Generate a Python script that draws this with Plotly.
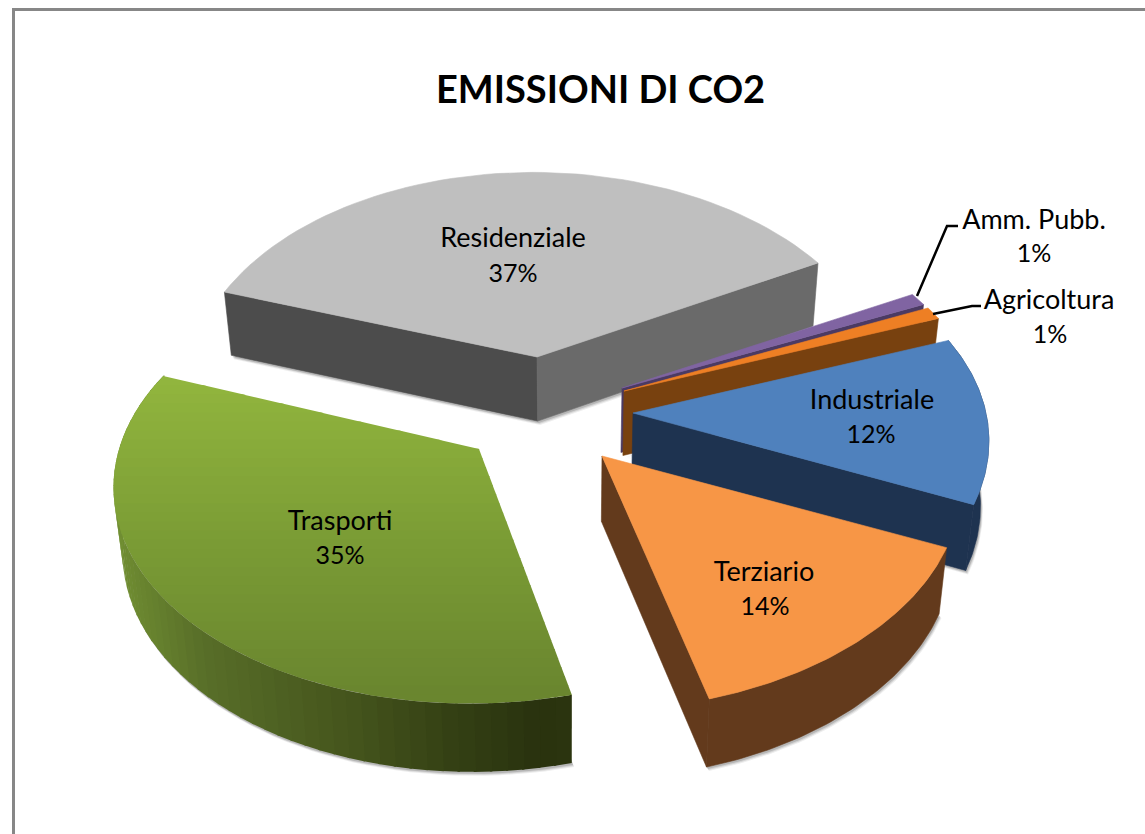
import math
import plotly.graph_objects as go

# ---- data ----
categories = ["Residenziale", "Amm. Pubb.", "Agricoltura", "Industriale", "Terziario", "Trasporti"]
values = [37.0, 1.0, 1.0, 12.4, 14.0, 34.6]
percent_labels = ["37%", "1%", "1%", "12%", "14%", "35%"]
title_text = "EMISSIONI DI CO2"

# ---- view and style ----
W, H = 1145, 834
START_ANGLE = -71.4
RX, RY, P = 340.0, 214.0, 0.159
VIEW_CX = 570.0
LEAN = 0.98

# apex x, apex y, x scale, x shear, y shear per slice (exploded slices seen in perspective)
VIEW = {
    "Residenziale": (537, 357, 1.015, 0.02, 0.0),
    "Amm. Pubb.": (622, 388, 1.04, 0.0, 0.0),
    "Agricoltura": (624, 391, 1.047, 0.0, 0.0),
    "Industriale": (633, 413, 1.038, -0.05, 0.0),
    "Terziario": (602, 456, 1.045, -0.033, 0.0),
    "Trasporti": (479, 449, 1.05, -0.095, 0.025),
}
TOP = {
    "Residenziale": "#bfbfbf", "Amm. Pubb.": "#8064a2", "Agricoltura": "#ee7f24",
    "Industriale": "#4f81bd", "Terziario": "#f79646",
}
WALL = {
    "Residenziale": "#6a6a6a", "Amm. Pubb.": "#4b3a63", "Agricoltura": "#78410f",
    "Industriale": "#1e3350", "Terziario": "#633a1c",
}
RES_START_WALL = "#4c4c4c"
GREEN_TOP_STOPS = [(376, (146, 182, 62)), (560, (120, 153, 52)), (692, (106, 134, 47))]
GREEN_WALL_STOPS = [(115, (112, 142, 50)), (200, (88, 110, 40)), (350, (68, 84, 28)),
                    (450, (52, 64, 20)), (540, (41, 50, 14)), (575, (44, 53, 16))]
NAME_POS = {"Residenziale": (513, 240), "Amm. Pubb.": (1034, 222), "Agricoltura": (1049, 302),
            "Industriale": (872, 402), "Terziario": (764, 574), "Trasporti": (340, 523)}
PCT_POS = {"Residenziale": (513, 276), "Amm. Pubb.": (1034, 256), "Agricoltura": (1050, 337),
           "Industriale": (871, 437), "Terziario": (765, 609), "Trasporti": (340, 558)}
LEADERS = {"Amm. Pubb.": ([917, 947, 958], [296, 226, 226]),
           "Agricoltura": ([933, 972, 981], [314, 306, 306])}
FONT = "Lato, Carlito, Calibri, sans-serif"

# ---- geometry computed from the values ----
total = sum(values)
angles = {}
a = START_ANGLE
for c, v in zip(categories, values):
    angles[c] = (a, a + v / total * 360)
    a += v / total * 360


def rim(cat, deg):
    ax, ay, s, k, m = VIEW[cat]
    t = math.radians(deg)
    X, Y = math.sin(t), math.cos(t)
    w = 1 + P * Y
    sy = -RY * Y / w
    sx0 = RX * s * X / w
    return ax + sx0 + k * sy, ay + sy + m * sx0


def down(pt):
    x, y = pt
    return VIEW_CX + (x - VIEW_CX) * LEAN, y + 64 + (y - 350) * 0.012


def arc(cat, d0, d1, n=60):
    return [rim(cat, d0 + (d1 - d0) * i / n) for i in range(n + 1)]


fig = go.Figure()


def poly(pts, color, line=0.6):
    xs = [p[0] for p in pts] + [pts[0][0]]
    ys = [p[1] for p in pts] + [pts[0][1]]
    fig.add_trace(go.Scatter(x=xs, y=ys, mode="lines", fill="toself", fillcolor=color,
                             line=dict(color=color, width=line), hoverinfo="skip", showlegend=False))


def lerp(stops, v):
    if v <= stops[0][0]:
        return stops[0][1]
    for (a0, c0), (a1, c1) in zip(stops, stops[1:]):
        if v <= a1:
            f = (v - a0) / (a1 - a0)
            return tuple(c0[i] + (c1[i] - c0[i]) * f for i in range(3))
    return stops[-1][1]


def rgb(c):
    return "rgb(%d,%d,%d)" % tuple(round(x) for x in c)


def clip(pts, y0, keep_below):
    out = []
    for i, p in enumerate(pts):
        q = pts[(i + 1) % len(pts)]
        inp = p[1] >= y0 if keep_below else p[1] <= y0
        inq = q[1] >= y0 if keep_below else q[1] <= y0
        if inp:
            out.append(p)
        if inp != inq:
            f = (y0 - p[1]) / (q[1] - p[1])
            out.append((p[0] + (q[0] - p[0]) * f, y0))
    return out


def shadow(cat, front0, front1):
    base = [down(p) for p in arc(cat, front0, front1)] + [down(VIEW[cat][:2])]
    for off, alpha in ((4, 0.07), (3, 0.10), (2, 0.14)):
        pts = [(x + off * 0.6, y + off) for x, y in base]
        poly(pts, "rgba(0,0,0,%.2f)" % alpha, line=0)


def cut_wall(cat, deg, color):
    apex = VIEW[cat][:2]
    r = rim(cat, deg)
    poly([apex, r, down(r), down(apex)], color)


# frame
fig.add_trace(go.Scatter(x=[13.5, 13.5, W], y=[H, 9.5, 9.5], mode="lines",
                         line=dict(color="#878787", width=3), hoverinfo="skip", showlegend=False))

# back-to-front
for cat in ["Residenziale", "Amm. Pubb.", "Agricoltura", "Industriale", "Terziario"]:
    d0, d1 = angles[cat]
    shadow(cat, d0, d1)
    if cat in ("Industriale", "Terziario"):
        rim_pts = arc(cat, d0, d1)
        poly(rim_pts + [down(p) for p in reversed(rim_pts)], WALL[cat])
    if cat == "Residenziale":
        cut_wall(cat, d0, RES_START_WALL)
    cut_wall(cat, d1, WALL[cat])
    poly([VIEW[cat][:2]] + arc(cat, d0, d1), TOP[cat])

# Trasporti: rim with horizontal gradient, top with vertical gradient
cat = "Trasporti"
d0, d1 = angles[cat]
shadow(cat, d0, d1)
segments = 56
for i in range(segments):
    a0 = d0 + (d1 - d0) * i / segments
    a1 = d0 + (d1 - d0) * (i + 1.15) / segments
    pts = arc(cat, a0, a1, 2)
    mid = pts[1][0]
    poly(pts + [down(p) for p in reversed(pts)], rgb(lerp(GREEN_WALL_STOPS, mid)), line=0)
top_poly = [VIEW[cat][:2]] + arc(cat, d0, d1, 120)
ymin, ymax = min(p[1] for p in top_poly), max(p[1] for p in top_poly)
bands = 36
for i in range(bands):
    y0 = ymin + (ymax - ymin) * i / bands
    y1 = ymin + (ymax - ymin) * (i + 1.1) / bands
    part = clip(clip(top_poly, y0, True), y1, False)
    if len(part) >= 3:
        poly(part, rgb(lerp(GREEN_TOP_STOPS, (y0 + y1) / 2)), line=0)

# leader lines
for cat, (lx, ly) in LEADERS.items():
    fig.add_trace(go.Scatter(x=lx, y=ly, mode="lines", line=dict(color="#000000", width=2.5),
                             hoverinfo="skip", showlegend=False))

# labels
fig.add_trace(go.Scatter(x=[NAME_POS[c][0] for c in categories], y=[NAME_POS[c][1] for c in categories],
                         text=categories, mode="text", textposition="middle center",
                         textfont=dict(family=FONT, size=27, color="#000000"),
                         hoverinfo="skip", showlegend=False))
fig.add_trace(go.Scatter(x=[PCT_POS[c][0] for c in categories], y=[PCT_POS[c][1] for c in categories],
                         text=percent_labels, mode="text", textposition="middle center",
                         textfont=dict(family=FONT, size=25, color="#000000"),
                         hoverinfo="skip", showlegend=False))

fig.update_layout(
    width=W, height=H, margin=dict(l=0, r=0, t=0, b=0),
    paper_bgcolor="white", plot_bgcolor="white", showlegend=False,
    xaxis=dict(range=[0, W], visible=False, fixedrange=True),
    yaxis=dict(range=[H, 0], visible=False, fixedrange=True),
    annotations=[dict(text="<b>%s</b>" % title_text, x=600, y=88, xref="x", yref="y",
                      showarrow=False, font=dict(family=FONT, size=38, color="#000000"))],
)
fig.write_html("out.html", config=dict(displayModeBar=False),
               post_script="document.body.style.margin='0';document.body.style.overflow='hidden';")
